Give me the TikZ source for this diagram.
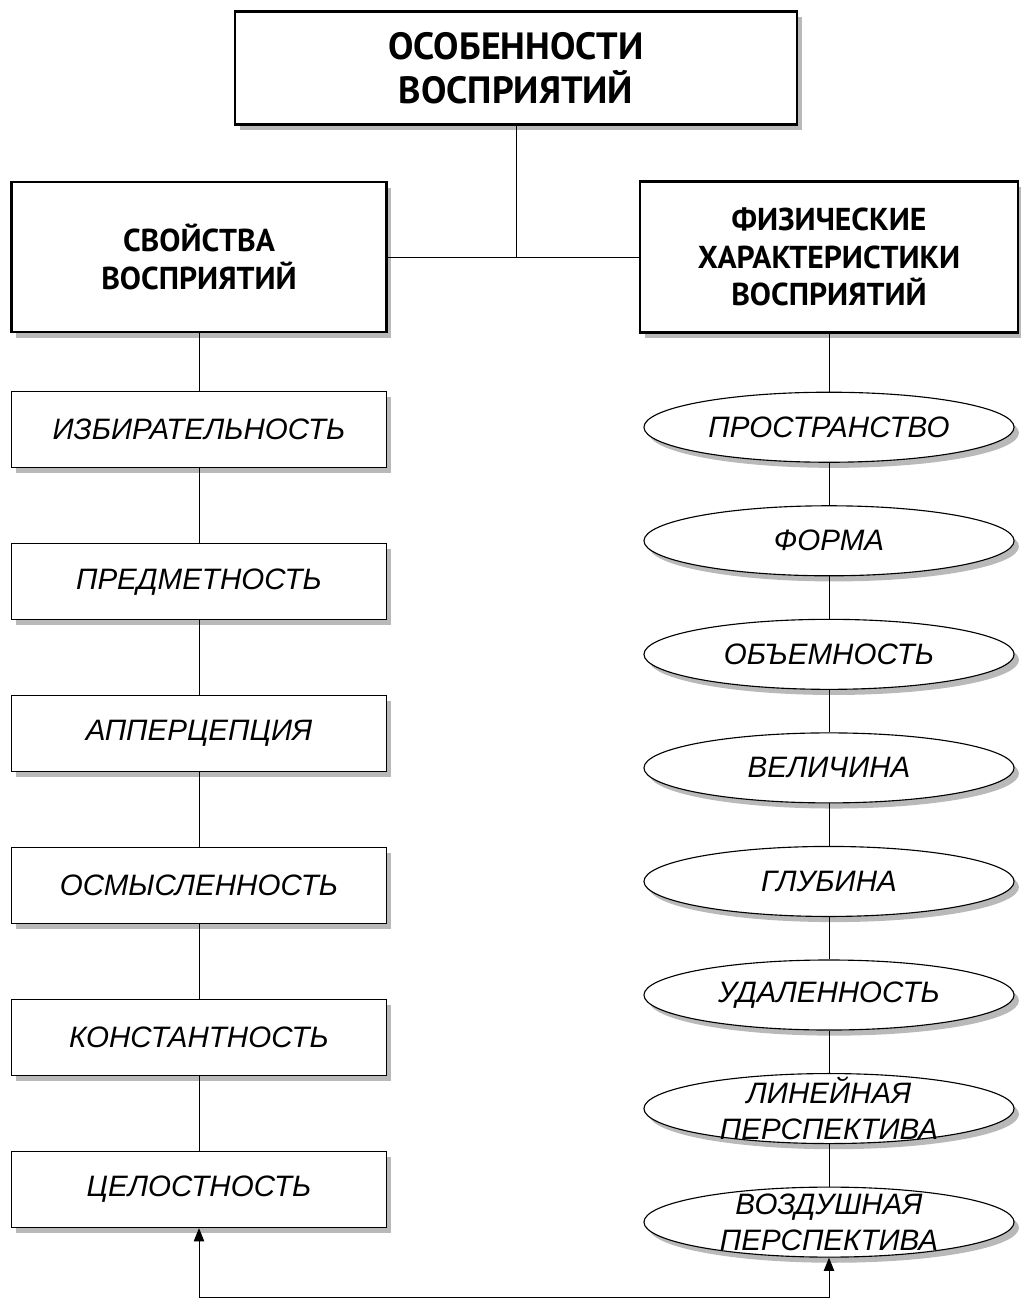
\documentclass[tikz,border=0pt]{standalone}
\usepackage{fontspec}
\setmainfont{Liberation Sans}
\newfontfamily\headfont{PT Sans}
\usetikzlibrary{positioning,arrows.meta,shadows,shapes.geometric}

\begin{document}
\begin{tikzpicture}[
    x=0.025cm, y=-0.025cm,
    >={Triangle[length=3.3mm, width=2.6mm]},
    line width=0.7pt,
    shade/.style={drop shadow={shadow xshift=3.5pt, shadow yshift=-4pt, fill=gray!55, opacity=1}},
    headbox/.style={draw, line width=1.6pt, fill=white, shade, align=center, font=\headfont\bfseries\fontsize{22.5}{26.5}\selectfont},
    itembox/.style={draw, line width=0.8pt, fill=white, shade, minimum width=9.375cm, minimum height=1.9cm, font=\itshape\fontsize{21}{26}\selectfont},
    itemoval/.style={ellipse, draw, line width=0.8pt, fill=white, shade, inner sep=0pt, minimum width=9.25cm, minimum height=1.75cm},
    ovaltext/.style={align=center, font=\itshape\fontsize{21}{26}\selectfont}
]
\useasboundingbox (0,0) rectangle (1020,1301);

% heads
\node[headbox, minimum width=14.05cm, minimum height=2.825cm, font=\headfont\bfseries\fontsize{27}{31}\selectfont] (top) at (516,68) {ОСОБЕННОСТИ\\ВОСПРИЯТИЙ};
\node[headbox, minimum width=9.375cm, minimum height=3.75cm] (props) at (199,257) {СВОЙСТВА\\ВОСПРИЯТИЙ};
\node[headbox, minimum width=9.45cm, minimum height=3.775cm] (phys) at (829,257) {ФИЗИЧЕСКИЕ\\ХАРАКТЕРИСТИКИ\\ВОСПРИЯТИЙ};

% left column
\node[itembox, below=1.45cm of props] (b1) {ИЗБИРАТЕЛЬНОСТЬ};
\node[itembox, below=1.87cm of b1] (b2) {ПРЕДМЕТНОСТЬ};
\node[itembox, below=1.87cm of b2] (b3) {АППЕРЦЕПЦИЯ};
\node[itembox, below=1.87cm of b3] (b4) {ОСМЫСЛЕННОСТЬ};
\node[itembox, below=1.87cm of b4] (b5) {КОНСТАНТНОСТЬ};
\node[itembox, below=1.87cm of b5] (b6) {ЦЕЛОСТНОСТЬ};

% right column
\node[itemoval, below=1.45cm of phys, label={[ovaltext]center:ПРОСТРАНСТВО}] (o1) {};
\node[itemoval, below=1.06cm of o1, label={[ovaltext]center:ФОРМА}] (o2) {};
\node[itemoval, below=1.06cm of o2, label={[ovaltext]center:ОБЪЕМНОСТЬ}] (o3) {};
\node[itemoval, below=1.06cm of o3, label={[ovaltext]center:ВЕЛИЧИНА}] (o4) {};
\node[itemoval, below=1.06cm of o4, label={[ovaltext]center:ГЛУБИНА}] (o5) {};
\node[itemoval, below=1.06cm of o5, label={[ovaltext]center:УДАЛЕННОСТЬ}] (o6) {};
\node[itemoval, below=1.06cm of o6, label={[ovaltext]center:ЛИНЕЙНАЯ\\ПЕРСПЕКТИВА}] (o7) {};
\node[itemoval, below=1.06cm of o7, label={[ovaltext]center:ВОЗДУШНАЯ\\ПЕРСПЕКТИВА}] (o8) {};

\coordinate (floor) at (520,1297);

% connectors
\draw (top) -- (top |- props.east);
\draw (props) -- (phys);
\draw (props) -- (b1);
\draw (b1) -- (b2);
\draw (b2) -- (b3);
\draw (b3) -- (b4);
\draw (b4) -- (b5);
\draw (b5) -- (b6);
\draw (phys) -- (o1);
\draw (o1) -- (o2);
\draw (o2) -- (o3);
\draw (o3) -- (o4);
\draw (o4) -- (o5);
\draw (o5) -- (o6);
\draw (o6) -- (o7);
\draw (o7) -- (o8);
\draw[<->] (o8.south) |- (floor) -| (b6.south);
\end{tikzpicture}
\end{document}
